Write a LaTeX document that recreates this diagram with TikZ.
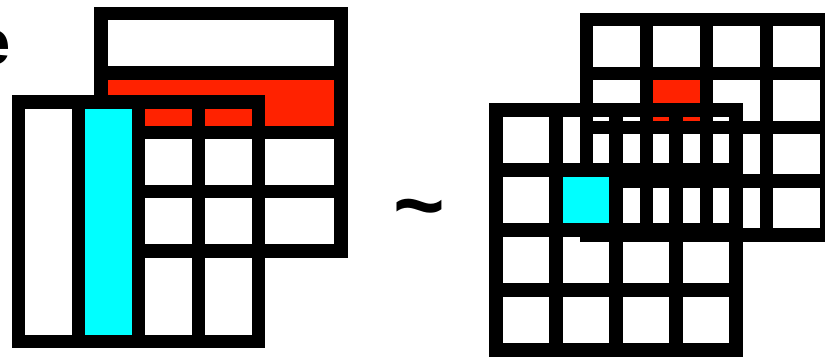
\documentclass[tikz,border=0pt]{standalone}
\usepackage{fontspec}
\setmainfont{Liberation Sans}
\definecolor{cellred}{RGB}{255,34,0}
\definecolor{cellcyan}{RGB}{0,255,255}
\tikzset{
  gridline/.style={line width=0.222cm, line cap=rect},
}
\begin{document}
\begin{tikzpicture}[x=1cm,y=-1cm,every node/.style={inner sep=0pt}]
  \useasboundingbox (0,0) rectangle (13.75,5.95);
  % Cut-off letter at the edge
  \node[anchor=base east,font=\fontsize{30}{36}\selectfont\bfseries] (letter) at (0.185,1.067) {e};
  % Left: back table (four rows)
  \begin{scope}[shift={(1.683,0.225)},yscale=0.99]
    \fill[cellred] (0,1) rectangle (4,2);
    \foreach \r in {0,...,4} \draw[gridline] (0,\r) -- (4,\r);
    \draw[gridline] (0,0) -- (0,4) (4,0) -- (4,4);
  \end{scope}
  % Left: front table (four columns)
  \begin{scope}[shift={(0.308,1.7)}]
    \fill[cellcyan] (1,0) rectangle (2,3.99);
    \foreach \c in {0,...,4} \draw[gridline] (\c,0) -- (\c,3.99);
    \draw[gridline] (0,0) -- (4,0) (0,3.99) -- (4,3.99);
  \end{scope}
  % Similarity sign
  \node[anchor=base,font=\fontsize{42}{50}\selectfont\bfseries] (tilde) at (6.99,3.92) {\textasciitilde};
  % Right: back grid
  \begin{scope}[shift={(9.775,0.325)},yscale=0.898]
    \fill[cellred] (1,1) rectangle (2,2);
    \foreach \r in {0,...,4} \draw[gridline] (0,\r) -- (4,\r);
    \foreach \c in {0,...,4} \draw[gridline] (\c,0) -- (\c,4);
  \end{scope}
  % Right: front grid
  \begin{scope}[shift={(8.267,1.833)}]
    \fill[cellcyan] (1,1) rectangle (2,2);
    \foreach \r in {0,...,4} \draw[gridline] (0,\r) -- (4,\r);
    \foreach \c in {0,...,4} \draw[gridline] (\c,0) -- (\c,4);
  \end{scope}
\end{tikzpicture}
\end{document}
